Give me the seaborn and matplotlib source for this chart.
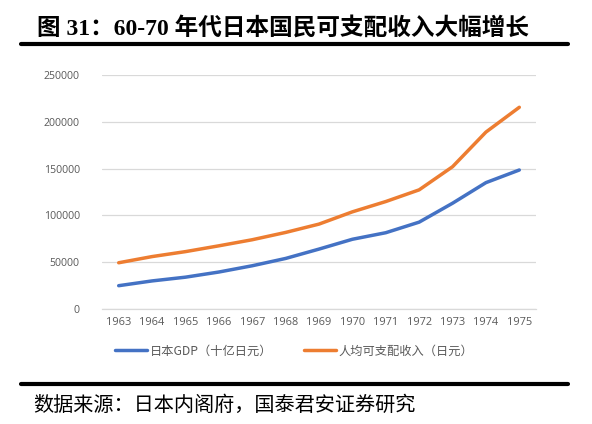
import matplotlib
matplotlib.use("Agg")
import matplotlib.pyplot as plt
import seaborn as sns
import pandas as pd
from matplotlib.lines import Line2D

years = ["1963", "1964", "1965", "1966", "1967", "1968", "1969",
         "1970", "1971", "1972", "1973", "1974", "1975"]
gdp = [24900, 30000, 34000, 39500, 46200, 54000, 64000,
       74500, 81500, 92800, 113000, 135000, 148500]
income = [49400, 56000, 61300, 67500, 74000, 81800, 90700,
          103800, 114800, 127300, 152000, 189000, 215500]
series_names = ["日本GDP（十亿日元）", "人均可支配收入（日元）"]
series_colors = ["#4472C4", "#ED7D31"]
y_ticks = [0, 50000, 100000, 150000, 200000, 250000]

title_text = "图 31：60-70 年代日本国民可支配收入大幅增长"
source_text = "数据来源：日本内阁府，国泰君安证券研究"

sns.set_theme(style="white")
plt.rcParams["font.family"] = ["Open Sans", "Noto Sans CJK SC", "DejaVu Sans"]

df = pd.DataFrame({
    "idx": list(range(len(years))) * 2,
    "value": gdp + income,
    "series": [series_names[0]] * len(years) + [series_names[1]] * len(years),
})

W, H = 592, 424
fig = plt.figure(figsize=(W / 100, H / 100), dpi=100)
ax = fig.add_axes([102 / W, (H - 309) / H, 434 / W, 234 / H])

sns.lineplot(data=df, x="idx", y="value", hue="series",
             palette=dict(zip(series_names, series_colors)),
             linewidth=2.5, ax=ax, legend=False, sort=False)

ax.set_xlim(-0.5, len(years) - 0.5)
ax.set_ylim(0, 250000)
ax.set_yticks(y_ticks)
ax.set_yticklabels([str(v) for v in y_ticks])
ax.set_xticks(range(len(years)))
ax.set_xticklabels(years)
ax.set_xlabel("")
ax.set_ylabel("")
ax.grid(axis="y", color="#D9D9D9", linewidth=0.9)
ax.set_axisbelow(True)
for s in ["top", "right", "left"]:
    ax.spines[s].set_visible(False)
ax.spines["bottom"].set_color("#D9D9D9")
ax.spines["bottom"].set_linewidth(0.9)
ax.tick_params(axis="y", length=0, pad=16, labelsize=7.6, labelcolor="#595959")
ax.tick_params(axis="x", length=0, pad=6, labelsize=7.9, labelcolor="#595959")
# category boundary ticks
ax.set_xticks([i - 0.5 for i in range(len(years) + 1)], minor=True)
ax.tick_params(axis="x", which="minor", length=4, color="#D9D9D9", width=0.9)

handles = [Line2D([0], [0], color=c, linewidth=2.5) for c in series_colors]
leg = fig.legend(handles, series_names, loc="center", bbox_to_anchor=(294 / W, 1 - 351 / H),
                 ncol=2, frameon=False, handlelength=2.6, handletextpad=0.2,
                 columnspacing=2.6, prop={"family": ["Noto Sans CJK SC", "DejaVu Sans"], "size": 8.8})
for t in leg.get_texts():
    t.set_color("#595959")

# title
fig.text(37 / W, 1 - 28 / H, title_text, ha="left", va="center", fontsize=17,
         fontweight="bold", family=["Liberation Serif", "Noto Sans CJK SC"], color="black")
fig.add_artist(Line2D([21 / W, 568 / W], [1 - 44 / H, 1 - 44 / H], color="black", linewidth=3))
fig.add_artist(Line2D([21 / W, 568 / W], [1 - 384 / H, 1 - 384 / H], color="black", linewidth=3))
fig.text(33 / W, 1 - 405 / H, source_text, ha="left", va="center", fontsize=14.5,
         family=["Noto Sans CJK SC", "DejaVu Sans"], color="black")

fig.savefig("out.png", dpi=100)
